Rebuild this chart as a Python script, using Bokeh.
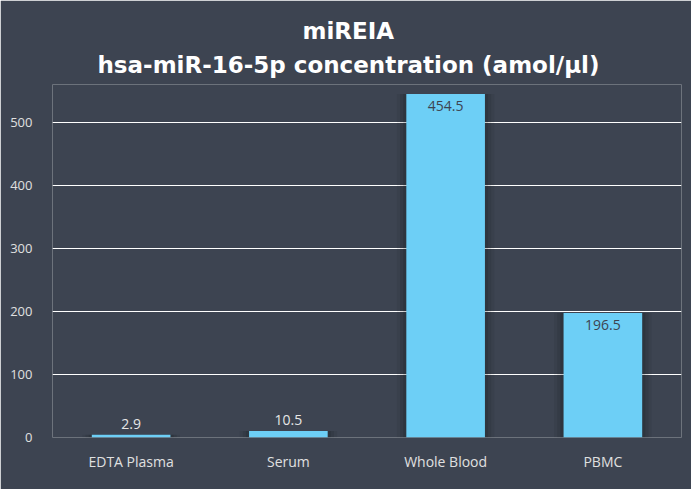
from bokeh.plotting import figure
from bokeh.models import ColumnDataSource, Range1d, FactorRange, Title, FixedTicker
from bokeh.core.properties import value
from bokeh.embed import file_html
from bokeh.resources import INLINE

categories = ["EDTA Plasma", "Serum", "Whole Blood", "PBMC"]
bar_heights = [4.5, 10.5, 545, 197.5]
value_labels = ["2.9", "10.5", "454.5", "196.5"]
y_ticks = [0, 100, 200, 300, 400, 500]
title_lines = ["miREIA", "hsa-miR-16-5p concentration (amol/µl)"]

BG = "#3d4451"
BAR = "#6dcff6"
FONT = "Open Sans"
TFONT = "DejaVu Sans"

p = figure(x_range=FactorRange(*categories), y_range=Range1d(0, 560),
           width=691, height=489, output_backend="svg", toolbar_location=None,
           background_fill_color=BG, border_fill_color=BG, outline_line_color=None,
           min_border_left=52, min_border_right=10, min_border_bottom=52, min_border_top=84)

inside = [h > 100 for h in bar_heights]
src = ColumnDataSource(dict(
    cat=categories, h=bar_heights,
    lab_in=[l if i else "" for l, i in zip(value_labels, inside)],
    lab_out=[l if not i else "" for l, i in zip(value_labels, inside)],
))

# soft shadow behind bars
for w, a in [(0.62, 0.06), (0.58, 0.08), (0.54, 0.10)]:
    p.vbar(x="cat", top="h", width=w, source=src, fill_color="black", fill_alpha=a, line_color=None)

p.vbar(x="cat", top="h", width=0.5, source=src, fill_color=BAR, line_color=None)

p.text(x="cat", y="h", text="lab_in", source=src, text_align="center", text_baseline="top",
       y_offset=7, text_color=BG, text_font=value(FONT), text_font_size="14px")
p.text(x="cat", y="h", text="lab_out", source=src, text_align="center", text_baseline="bottom",
       y_offset=-6, text_color="#e6e6e6", text_font=value(FONT), text_font_size="14px")

p.xgrid.grid_line_color = None
p.ygrid.grid_line_color = "white"
p.ygrid.grid_line_width = 1
p.ygrid.level = "underlay"

p.yaxis.ticker = FixedTicker(ticks=y_ticks)
for ax in (p.xaxis[0], p.yaxis[0]):
    ax.axis_line_color = None
    ax.major_tick_line_color = None
    ax.minor_tick_line_color = None
    ax.major_label_text_color = "#e0e0e0"
    ax.major_label_text_font = FONT
p.yaxis.major_label_text_font_size = "13px"
p.yaxis.major_label_standoff = 14
p.xaxis.major_label_text_font_size = "14px"
p.xaxis.major_label_standoff = 8

p.add_layout(Title(text=title_lines[1], align="left", offset=45, text_font=TFONT,
                   text_font_size="23px", text_font_style="bold", text_color="white",
                   standoff=14), "above")
p.add_layout(Title(text=title_lines[0], align="left", offset=250, text_font=TFONT,
                   text_font_size="23px", text_font_style="bold", text_color="white",
                   standoff=-3), "above")

open("out.html", "w").write(file_html(p, INLINE))
